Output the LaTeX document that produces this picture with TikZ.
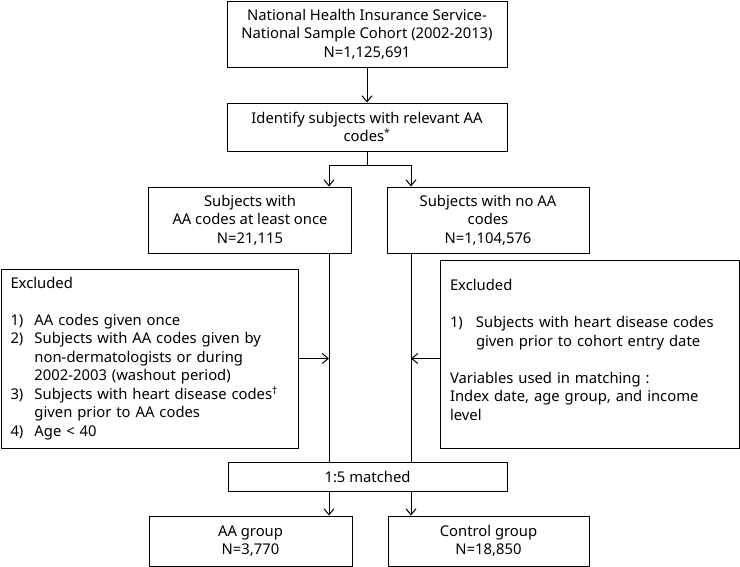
\documentclass[tikz,border=0pt]{standalone}
\usepackage{fontspec}
\setmainfont{Noto Sans}
\usetikzlibrary{arrows.meta}

\begin{document}
\begin{tikzpicture}[x=1pt, y=-1pt, line width=1pt,
	every node/.style={font=\fontsize{14.8}{18.5}\selectfont},
	box/.style={draw, rectangle, align=center, inner sep=0pt},
	exclbox/.style={draw, rectangle, align=left, inner sep=0pt},
	>={Straight Barb[length=6pt, width=10pt]}]
	\useasboundingbox (0,0) rectangle (740,566);
	% main column
	\node[box, minimum width=280, minimum height=66] (cohort) at (367,34) {National Health Insurance Service-\\National Sample Cohort (2002-2013)\\N=1,125,691};
	\node[box, minimum width=280, minimum height=48] (identify) at (367,127) {Identify subjects with relevant AA\\codes\textsuperscript{*}};
	\node[box, minimum width=203, minimum height=66] (withaa) at (250,220) {Subjects with\\AA codes at least once\\N=21,115};
	\node[box, minimum width=202, minimum height=66] (noaa) at (488,220) {Subjects with no AA\\codes\\N=1,104,576};
	\node[box, minimum width=279, minimum height=29] (matched) at (367.5,476.5) {1:5 matched};
	\node[box, minimum width=203, minimum height=50] (aagroup) at (250.5,541) {AA group\\N=3,770};
	\node[box, minimum width=201, minimum height=50] (control) at (488.5,541) {Control group\\N=18,850};
	% exclusion boxes
	\node[exclbox, minimum width=297, minimum height=179, text width=278] (exclaa) at (149.5,358.5) {Excluded\\[18.5pt]
		\makebox[24pt][l]{1)}AA codes given once\\
		\makebox[24pt][l]{2)}Subjects with AA codes given by\\
		\hspace*{24pt}non-dermatologists or during\\
		\hspace*{24pt}2002-2003 (washout period)\\
		\makebox[24pt][l]{3)}Subjects with heart disease codes\textsuperscript{\dag}\\
		\hspace*{24pt}given prior to AA codes\\
		\makebox[24pt][l]{4)}Age \textless{} 40};
	\node[exclbox, minimum width=299, minimum height=188, text width=279] (exclctrl) at (589.5,354) {Excluded\\[18.5pt]
		\makebox[26pt][l]{1)}Subjects with heart disease codes\\
		\hspace*{26pt}given prior to cohort entry date\\[18.5pt]
		Variables used in matching :\\
		Index date, age group, and income\\
		level\\[-10pt]\mbox{}};
	% columns
	\coordinate (split) at (367,165);
	\coordinate (lcol) at (329,0);
	\coordinate (rcol) at (411,0);
	% connectors
	\draw[->] (cohort) -- (identify);
	\draw (identify) -- (split);
	\draw[->] (split) -| (withaa.north -| lcol);
	\draw[->] (split) -| (noaa.north -| rcol);
	\draw (withaa.south -| lcol) -- (matched.north -| lcol);
	\draw (noaa.south -| rcol) -- (matched.north -| rcol);
	\draw[->] (exclaa.east) -- (exclaa.east -| lcol);
	\draw[->] (exclctrl.west |- exclaa.east) -- (exclaa.east -| rcol);
	\draw[->] (matched.south -| lcol) -- (aagroup.north -| lcol);
	\draw[->] (matched.south -| rcol) -- (control.north -| rcol);
\end{tikzpicture}
\end{document}
